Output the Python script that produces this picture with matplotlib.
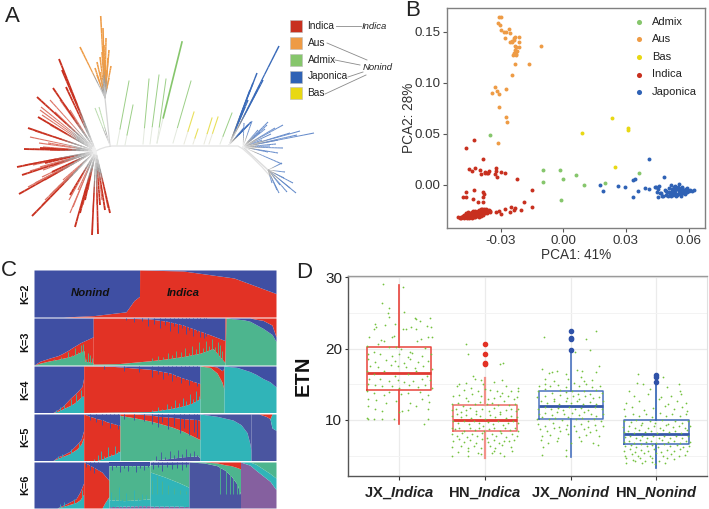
import numpy as np
import matplotlib
matplotlib.use("Agg")
import matplotlib.pyplot as plt
from matplotlib.collections import LineCollection
from matplotlib.colors import to_rgb

plt.rcParams['font.family'] = ['Liberation Sans', 'DejaVu Sans']
plt.rcParams['mathtext.fontset'] = 'custom'
plt.rcParams['mathtext.rm'] = 'Liberation Sans:bold'
plt.rcParams['mathtext.it'] = 'Liberation Sans:italic:bold'
plt.rcParams['mathtext.bf'] = 'Liberation Sans:bold'

W, H = 709, 509
RED, ORANGE, GREEN, BLUE, YELLOW = '#C8301F', '#EE9B45', '#86C66C', '#2F62B5', '#E8D813'

# ---------- Panel A: tree layout ----------
backbone_x = [96, 100, 106, 112, 150, 200, 230, 238, 243, 252, 262, 270]
backbone_y = [151, 149, 147, 146, 146, 146, 146, 146, 149, 157, 167, 176]

red_root = (96, 151)
red_strong = [(59, 59), (62, 70), (66, 87), (53, 88), (37, 97), (38, 117), (28, 128), (24, 149), (17, 167),
              (22, 175), (19, 194), (32, 216), (75, 227), (92, 235), (98, 234), (110, 213), (105, 210),
              (80, 213), (85, 200), (100, 205), (70, 195), (40, 148), (45, 163), (52, 172)]
red_pale = [(41, 107), (40, 110), (42, 115), (43, 120), (50, 125), (35, 131), (30, 137), (39, 143), (43, 147),
            (48, 143), (55, 137), (33, 149), (50, 150), (25, 165), (33, 165), (30, 171), (40, 167), (43, 170),
            (52, 166), (28, 187), (35, 183), (42, 177), (45, 180), (62, 170), (42, 205), (45, 200), (50, 195),
            (53, 192), (58, 187), (63, 180), (70, 213), (69, 200), (73, 207), (78, 190), (83, 205), (88, 190),
            (93, 212), (97, 205), (102, 200), (108, 208), (60, 100), (65, 105), (70, 110), (55, 112), (50, 100)]
orange_stem = [(110, 146), (105, 98)]
orange_tips = [(100.7, 16), (103, 28), (106, 38), (109, 50), (111, 66), (80, 47), (95, 68), (97, 62), (100, 57),
               (102, 52), (105, 60), (107, 70), (109, 78), (100, 72), (97, 75), (104, 45), (108, 58)]
pale_green_tips = [(95, 108), (99, 107)]
green_base = [(117, 145), (125, 145), (143, 144), (150, 144), (157, 143), (157, 143), (173, 143), (220, 144)]
green_tips = [(129, 81), (133, 105), (149, 79), (159, 75), (166, 79), (182, 42), (191, 81), (232, 113)]
yellow_base = [(184, 144), (193, 144), (204, 144), (209, 144)]
yellow_tips = [(194, 112), (198, 129), (212, 118), (218, 117)]
blue_up_root = (229, 145)
blue_up_tips = [(279, 46), (257, 73), (263, 80), (253, 83), (250, 90), (248, 100), (245, 107), (260, 85), (242, 113),
                (251, 122), (248, 125), (244, 128)]
blue_mid_root = (243, 147)
blue_mid_tips = [(244, 123), (252, 121), (268, 122), (283, 125), (300, 131), (314, 133), (297, 135), (278, 140),
                 (283, 148), (278, 153), (267, 125), (260, 132), (275, 128), (265, 129), (271, 134), (290, 133),
                 (270, 146), (276, 144), (262, 140), (258, 130), (268, 152), (282, 164)]
blue_low_root = (268, 170)
blue_low_tips = [(282, 163), (285, 172), (293, 183), (296, 193), (287, 192), (279, 193), (277, 190), (272, 183),
                 (284, 178), (280, 185), (275, 176), (290, 188)]
legend_names = ['Indica', 'Aus', 'Admix', 'Japonica', 'Bas']
legend_colors = [RED, ORANGE, GREEN, BLUE, YELLOW]
legend_y = [26, 43, 60, 76.5, 93]
link_lines = [((336, 26), (361, 26)), ((327, 43), (367, 60)), ((335, 60), (360, 65)),
              ((348, 77), (363, 72)), ((325, 94), (366, 75))]

# ---------- Panel B ----------
aus_x = [-.031, -.030, -.0313, -.0305, -.0297, -.0286, -.0275, -.0262, -.0257, -.0281, -.023, -.021, -.0235, -.0257,
         -.0246, -.0214, -.0233, -.0225, -.021, -.023, -.0222, -.0235, -.0243, -.0225, -.0108, -.0163, -.0232, -.0248,
         -.0275, -.0329, -.0317, -.0344, -.031, -.0308, -.0273, -.0268, -.0311, -.0245, -.0238, -.0225, -.0228]
aus_y = [.164, .164, .1585, .1565, .152, .150, .1497, .153, .1487, .1438, .1448, .1444, .142, .1395, .1395, .1395,
         .1356, .135, .1346, .1324, .1307, .129, .1268, .1275, .136, .1183, .1183, .1072, .0941, .0958, .0918, .0899,
         .0886, .0761, .0663, .0614, .0408, .1405, .1435, .1315, .1285]
admix_x = [-.0349, -.0097, -.0097, -.0016, -.0003, -.001, .0059, .0097, .0202, .0363]
admix_y = [.0493, .015, .0026, .0144, .0062, -.0144, .0095, .0003, .0023, .0118]
bas_x = [.0089, .0233, .0308, .0311, .0248]
bas_y = [.051, .0654, .0556, .0542, .0173]
indica_x = [-.0427, -.0467, -.0383, -.0452, -.044, -.0425, -.04, -.0395, -.0373, -.0365, -.0354, -.036, -.0376, -.0322,
            -.0321, -.0327, -.0317, -.0298, -.0278, -.0222, -.0151, -.019, -.0148, -.0203, -.023, -.0238, -.0251, -.0278,
            -.0257, -.0297, -.031, -.0321, -.0465, -.0479, -.0429, -.0383, -.0381, -.0384, -.041, -.0384, -.0432, -.0468,
            -.0505, -.0495, -.049, -.0485, -.0488, -.048, -.0478, -.0475, -.0472, -.047, -.0468, -.0466, -.0463, -.046,
            -.0458, -.0456, -.0453, -.045, -.0448, -.0446, -.0444, -.0442, -.044, -.0438, -.0436, -.0434, -.0432, -.043,
            -.0428, -.0426, -.0424, -.0422, -.042, -.0418, -.0416, -.0414, -.0412, -.041, -.0408, -.0406, -.0404, -.0402,
            -.04, -.0398, -.0396, -.0394, -.0392, -.039, -.0388, -.0385, -.0382, -.038, -.0376, -.0372, -.0368, -.0364,
            -.036, -.0356, -.0352, -.035, -.0465, -.0455, -.0445, -.0435, -.0425, -.0415, -.0405, -.0395, -.0385, -.0375,
            -.0462, -.0452, -.0442, -.0432, -.0422, -.0412, -.0402, -.0392, -.0382, -.0372]
indica_y = [.0438, .0359, .0258, .0154, .0141, .0163, .015, .0105, .0124, .0121, .0141, .0114, .0114, .0163, .0137, .0105,
            .0082, .0124, .0121, .0056, -.0052, -.017, -.0216, -.0242, -.0222, -.0245, -.0219, -.0235, -.0261, -.0281,
            -.0252, -.0261, -.0072, -.0118, -.0052, -.0069, -.0085, -.0114, -.0163, -.017, -.0141, -.0121,
            -.0315, -.032, -.0312, -.031, -.0325, -.0305, -.032, -.0295, -.0315, -.0305, -.0285, -.031, -.0325, -.0295,
            -.031, -.028, -.0322, -.0295, -.0272, -.0315, -.03, -.0285, -.0268, -.032, -.029, -.0305, -.0275, -.0262,
            -.0318, -.0292, -.0255, -.031, -.0278, -.0298, -.0262, -.0305, -.0285, -.0255, -.0295, -.0272, -.0245, -.031,
            -.0285, -.0265, -.0235, -.03, -.0275, -.0252, -.0235, -.029, -.0262, -.0238, -.0272, -.0255, -.024, -.0278,
            -.0258, -.0245, -.0268, -.0252, -.0278, -.0265, -.0285, -.0255, -.0275, -.0292, -.0265, -.0245, -.0255, -.0262,
            -.03, -.031, -.0295, -.0305, -.0285, -.0275, -.0285, -.0278, -.0248, -.0235]
japonica_x = [.041, .0483, .0178, .0192, .0262, .0295, .0335, .0335, .0344, .0359, .039, .0413, .0437, .0444, .0449, .0454,
              .046, .047, .048, .0455, .0465, .0475, .0485, .049, .0495, .05, .0505, .051, .0515, .052, .0525, .053, .0535,
              .054, .0545, .055, .0555, .056, .0565, .057, .0575, .058, .0585, .059, .0595, .06, .0605, .0615, .0625,
              .049, .0505, .052, .0535, .055, .0565, .058, .0595, .051, .0525, .054, .0555, .057, .0585, .0525, .0545,
              .0565, .0515, .0535, .0555, .0575, .0595]
japonica_y = [.0252, .0078, .0003, -.0062, -.001, -.002, -.0118, .0049, .0059, -.0059, -.0029, -.0042, -.0016, -.0016, -.0065,
              -.0114, -.001, -.008, -.011, -.004, -.0075, -.0108, -.005, -.0095, -.0065, -.0108, -.003, -.0085, -.0105,
              -.0055, -.0095, -.002, -.0075, -.0108, -.0035, -.0085, .0005, -.0065, -.0105, -.0025, -.0075, -.0045, -.0085,
              -.0035, -.0065, -.0055, -.005, -.0055, -.005, -.0055, -.0065, -.0035, -.0045, -.0015, -.0035, -.0055, -.0045,
              -.0075, -.0065, -.0025, -.0055, -.0015, -.0075, -.0085, -.0095, -.0088, .0002, -.0008, -.0028, -.0065, -.0025]
pca_xticks = [-0.03, 0.00, 0.03, 0.06]
pca_yticks = [0.00, 0.05, 0.10, 0.15]

# ---------- Panel C: ancestry fractions per ordered sample ----------
C_BLUE, C_RED, C_GREEN, C_TEAL, C_DEEP, C_PURPLE = '#3F4FA3', '#E23225', '#4DB58E', '#30B4B8', '#4A55A0', '#85609F'
k2_x = [0, 29, 60, 92, 100, 105.5, 105.6, 149, 200, 242]
k2_red = [0, 0, .03, .11, .35, .44, 1.0, .98, .83, .5]

k3_x1 = [0, 6, 16, 24, 28, 34, 39, 43, 46, 49, 50, 51, 59.2]
k3_g1 = [0, .04, .09, .12, .14, .17, .2, .24, .27, .3, .3, .08, .05]
k3_r1 = [0, .08, .15, .2, .24, .31, .38, .43, .47, .5, .51, .52, .6]
k3_x2 = [59.2, 85, 116, 133, 149, 166, 179, 191]
k3_g2 = [.02, .03, .09, .13, .18, .25, .35, .05]
k3_r2 = [1, 1, .98, .93, .85, .72, .62, .52]
k3_x3 = [191, 192, 210, 216, 223, 229, 238, 242]
k3_g3 = [.05, 1, .96, .93, .85, .78, .65, .5]
k3_b3 = [.05, 1, 1, 1, .97, .95, .85, .6]

k4_x1 = [0, 19, 24, 29, 36, 40, 43, 48, 49.7]
k4_t1 = [0, 0, .03, .08, .15, .2, .25, .35, .35]
k4_r1 = [0, 0, .06, .14, .3, .38, .44, .56, .75]
k4_x2 = [49.7, 80, 116, 136, 149, 158, 166]
k4_t2 = [0, .01, .02, .08, .14, .2, .3]
k4_r2 = [1, .99, .93, .85, .74, .68, .62]
k4_x3 = [166, 176, 183, 188, 190]
k4_g3 = [1, .97, .85, .65, .5]
k4_r3 = [1, 1, .98, .9, .95]
k4_x4 = [190, 203, 216, 222, 229, 236, 242]
k4_t4 = [1, .97, .88, .82, .73, .66, .55]

k5_x1 = [0, 19, 24, 29, 36, 43, 47, 49.7]
k5_t1 = [0, 0, .05, .09, .15, .25, .35, .5]
k5_r1 = [0, 0, .08, .12, .2, .35, .45, .65]
k5_x2 = [49.7, 56, 63, 69, 73, 80, 86]
k5_t2 = [0, 0, 0, .04, .08, .13, .2]
k5_r2 = [1, .95, .9, .87, .83, .79, .75]
k5_x3 = [86, 100, 116, 125, 138, 149, 164, 166]
k5_d3 = [0, 0, 0, .02, .05, .08, .1, .05]
k5_g3 = [.97, .92, .85, .8, .72, .63, .47, .45]
k5_r3 = [1, 1, .98, .95, .93, .9, .88, .85]
k5_x4 = [166, 183, 199, 207, 213, 216, 217]
k5_t4 = [1, .95, .87, .77, .6, .35, .2]
k5_x5 = [217, 225, 232, 236, 238, 242]
k5_d5 = [1, 1, .95, .9, .7, .65]
k5_t5 = [1, 1, .95, .9, 1, 1]

k6_x1 = [0, 23, 33, 42, 46, 49.7]
k6_t1 = [0, 0, .06, .12, .18, .3]
k6_r1 = [0, 0, .1, .2, .35, .55]
k6_x2 = [49.7, 60, 68, 71, 75]
k6_t2 = [0, 0, 0, .12, .25]
k6_r2 = [1, .88, .78, .7, .6]
k6_x3 = [75, 90, 105, 116]
k6_p3 = [.03, .04, .05, .05]
k6_t3 = [.18, .16, .18, .2]
k6_g3 = [.92, .92, .92, .92]
k6_x4 = [116, 116.5, 130, 145, 155]
k6_p4 = [.04, .04, .04, .04, .03]
k6_t4 = [.2, .78, .68, .55, .45]
k6_g4 = [.94, .94, .94, .95, .95]
k6_x5 = [155, 170, 183, 191, 197, 203, 206.5]
k6_d5 = [1, .98, .92, .82, .7, .52, .3]
k6_g5 = [1, 1, .98, .94, .92, .88, .85]
k6_x6 = [206.5, 216, 222, 229, 236, 242]
k6_v6 = [1, .93, .82, .7, .58, .4]
k6_t6 = [1, 1, .95, .85, .75, .65]

rows = [
    ('K=2', [(k2_x, [(C_RED, k2_red), (C_BLUE, [1]*len(k2_x))])]),
    ('K=3', [(k3_x1, [(C_GREEN, k3_g1), (C_RED, k3_r1), (C_BLUE, [1]*len(k3_x1))]),
             (k3_x2, [(C_GREEN, k3_g2), (C_RED, k3_r2), (C_BLUE, [1]*len(k3_x2))]),
             (k3_x3, [(C_GREEN, k3_g3), (C_BLUE, k3_b3), (C_RED, [1]*len(k3_x3))])]),
    ('K=4', [(k4_x1, [(C_TEAL, k4_t1), (C_RED, k4_r1), (C_BLUE, [1]*len(k4_x1))]),
             (k4_x2, [(C_TEAL, k4_t2), (C_RED, k4_r2), (C_BLUE, [1]*len(k4_x2))]),
             (k4_x3, [(C_GREEN, k4_g3), (C_RED, k4_r3), (C_BLUE, [1]*len(k4_x3))]),
             (k4_x4, [(C_TEAL, k4_t4), (C_BLUE, [1]*len(k4_x4))])]),
    ('K=5', [(k5_x1, [(C_TEAL, k5_t1), (C_RED, k5_r1), (C_BLUE, [1]*len(k5_x1))]),
             (k5_x2, [(C_TEAL, k5_t2), (C_RED, k5_r2), (C_BLUE, [1]*len(k5_x2))]),
             (k5_x3, [(C_DEEP, k5_d3), (C_GREEN, k5_g3), (C_RED, k5_r3), (C_BLUE, [1]*len(k5_x3))]),
             (k5_x4, [(C_TEAL, k5_t4), (C_DEEP, [1]*len(k5_x4))]),
             (k5_x5, [(C_DEEP, k5_d5), (C_TEAL, k5_t5), (C_RED, [1]*len(k5_x5))])]),
    ('K=6', [(k6_x1, [(C_TEAL, k6_t1), (C_RED, k6_r1), (C_BLUE, [1]*len(k6_x1))]),
             (k6_x2, [(C_TEAL, k6_t2), (C_RED, k6_r2), (C_BLUE, [1]*len(k6_x2))]),
             (k6_x3, [(C_PURPLE, k6_p3), (C_TEAL, k6_t3), (C_GREEN, k6_g3), (C_BLUE, [1]*len(k6_x3))]),
             (k6_x4, [(C_PURPLE, k6_p4), (C_TEAL, k6_t4), (C_GREEN, k6_g4), (C_BLUE, [1]*len(k6_x4))]),
             (k6_x5, [(C_DEEP, k6_d5), (C_GREEN, k6_g5), (C_RED, [1]*len(k6_x5))]),
             (k6_x6, [(C_PURPLE, k6_v6), (C_TEAL, k6_t6), (C_GREEN, [1]*len(k6_x6))])]),
]
# thin single-sample columns: colour, sample, from fraction, to fraction
k3_up_x = [20, 27, 34, 38, 41, 44, 47, 49, 52, 54, 56, 58, 118, 124, 129, 134, 138, 142, 147, 151, 155, 158, 162, 165, 169, 172, 175, 178, 181, 184, 186, 188]
k3_up_y = [.12, .18, .28, .22, .36, .28, .42, .44, .12, .25, .22, .15, .14, .2, .16, .26, .22, .3, .28, .36, .26, .4, .33, .48, .36, .52, .4, .56, .38, .5, .42, .3]
k3_dn_x = [92, 100, 108, 114, 120, 126, 131, 136, 140, 144, 148, 152, 155, 159, 163, 166, 170, 172]
k3_dn_y = [.95, .92, .93, .82, .88, .78, .85, .72, .82, .68, .78, .65, .75, .62, .7, .6, .58, .62]
k4_up_x = [22, 26, 30, 33, 37, 39, 42, 45, 47, 49, 118, 124, 128, 133, 137, 141, 145, 149, 152, 156, 159, 162, 165]
k4_up_y = [.05, .12, .16, .08, .28, .14, .4, .22, .48, .28, .06, .12, .08, .18, .14, .26, .2, .32, .24, .4, .3, .46, .35]
k4_dn_x = [70, 90, 105, 118, 124, 129, 134, 138, 142, 147, 151, 155, 159, 163]
k4_dn_y = [.93, .9, .88, .76, .82, .72, .8, .68, .76, .64, .7, .6, .66, .58]
k5_up_x = [24, 28, 33, 37, 41, 45, 48, 60, 64, 67, 70, 74, 77, 81, 84]
k5_up_y = [.09, .14, .07, .24, .15, .38, .22, .04, .12, .2, .09, .28, .14, .32, .2]
k5_dn_x = [56, 62, 68, 72, 76, 80, 84, 90, 100, 110, 118, 124, 128, 134, 140, 146, 150, 155, 160, 163]
k5_dn_y = [.88, .82, .76, .85, .7, .78, .68, .9, .88, .86, .78, .72, .82, .68, .74, .6, .7, .55, .62, .5]
k5_deep_x = [122, 127, 131, 136, 140, 144, 148, 152, 156, 160, 163]
k5_deep_y = [.1, .18, .08, .2, .12, .22, .14, .24, .16, .2, .12]
k6_up_x = [26, 30, 35, 40, 44, 48, 77, 81, 85, 88, 92, 96, 100, 104, 108, 112, 120, 125, 130, 135, 140, 145, 150]
k6_up_y = [.08, .14, .06, .2, .12, .4, .35, .25, .45, .2, .32, .18, .4, .22, .3, .28, .12, .1, .16, .12, .1, .15, .08]
k6_dn_x = [52, 56, 60, 64, 78, 82, 86, 90, 94, 98, 102, 106, 110, 114, 119, 124, 128, 133, 138, 143, 148, 152]
k6_dn_y = [.9, .82, .76, .82, .82, .9, .78, .88, .8, .92, .78, .86, .82, .9, .85, .9, .8, .9, .84, .88, .82, .9]
k6_green_x = [186, 192, 196, 199, 203, 205, 118, 123, 128, 134, 140, 146, 152]
k6_green_y = [.92, .8, .75, .62, .6, .45, .6, .7, .58, .5, .44, .4, .36]
spike_sets = {
    'K=3': [(C_GREEN, k3_up_x, 0, k3_up_y), (C_BLUE, k3_dn_x, k3_dn_y, 1)],
    'K=4': [(C_TEAL, k4_up_x, 0, k4_up_y), (C_BLUE, k4_dn_x, k4_dn_y, 1)],
    'K=5': [(C_TEAL, k5_up_x, 0, k5_up_y), (C_BLUE, k5_dn_x, k5_dn_y, 1), (C_DEEP, k5_deep_x, 0, k5_deep_y)],
    'K=6': [(C_TEAL, k6_up_x, 0, k6_up_y), (C_BLUE, k6_dn_x, k6_dn_y, 1), (C_GREEN, k6_green_x, 0.3, k6_green_y)],
}
row_tops = [270, 318, 366, 414, 462]
row_bottoms = [317, 365, 412.5, 460.5, 508]

# ---------- Panel D ----------
groups = ['$\\mathrm{JX\\_}\\mathit{Indica}$', '$\\mathrm{HN\\_}\\mathit{Indica}$',
          '$\\mathrm{JX\\_}\\mathit{Nonind}$', '$\\mathrm{HN\\_}\\mathit{Nonind}$']
q1 = [14.2, 8.4, 10.2, 6.6]
med = [16.6, 10.0, 12.0, 8.0]
q3 = [20.2, 12.1, 14.0, 10.0]
whislo = [9.4, 4.7, 4.8, 3.3]
whishi = [29.0, 15.9, 19.8, 15.3]
fliers = [[], [17.9, 18.0, 19.2, 20.7], [19.8, 21.4, 21.5, 22.5], [15.3, 16.0, 16.3]]

jx_ind_off = [-.19, .04, -.2, -.12, -.13, -.12, .05, -.28, -.17, -.05, -.27, -.29, .18, .2, .24, .36, .32, .37, .14, .08, .04, .2,
              -.35, -.21, -.18, -.06, -.08, .25, .34, .38, .21, -.38, -.25, -.12, -.04, .02, .13, .3, -.36, -.3, -.22, -.08, 0, .1,
              .15, .27, .37, -.37, -.28, -.15, -.05, .05, .12, .22, .33, -.34, -.25, -.1, -.02, .08, .18, .28, .38, -.38, -.3, -.18,
              -.05, .1, .2, .32, -.35, -.22, -.12, -.02, .06, .16, .26, .36, -.37, -.28, -.2, -.08, 0, .11, .22, .3, .38, -.38, -.3,
              -.18, -.12, .02, .1, .24, .33, -.37, -.27, -.15, -.04, .12, .26, .35, -.36, -.28, -.2, 0, .03, .1, .2, .34, -.38, -.37,
              -.3, -.2, -.06, .34, .29]
jx_ind_val = [29.1, 28.7, 26.4, 25.7, 25, 24.4, 25.1, 23.5, 23.3, 23.4, 23, 22.7, 24.3, 24.1, 23.9, 24.3, 23.2, 23.1, 23, 22.8, 22.7, 22.8,
              21.6, 21.2, 21.1, 21.8, 21.6, 21.3, 21.7, 21.7, 21.1, 20.4, 20.6, 20.3, 20.2, 20, 19.6, 20.1, 19.2, 19.5, 19.2, 19, 19.3, 18.9,
              19.4, 19, 19.2, 18.5, 18.2, 18.4, 18.3, 18, 18.5, 18.2, 18.3, 17.6, 17.4, 17.7, 17.5, 17.4, 17.3, 17.5, 17.2, 16.9, 16.5, 16.8,
              16.2, 16.4, 16.9, 16.2, 15.8, 15.7, 15.4, 15.6, 15.3, 15.5, 15.8, 15.6, 15, 14.9, 14.7, 14.8, 14.5, 14.9, 14.6, 14.9, 14.5, 14, 13.8,
              13.5, 13.9, 13.6, 13.8, 13.9, 13.5, 13, 12.8, 12.4, 12.7, 12.4, 12.9, 12.5, 12, 11.6, 11.3, 11.1, 11.2, 11.4, 11.9, 11.5, 10.3, 10.1,
              10.2, 10.1, 10.1, 10.1, 9.4]
hn_ind_off = [-.22, -.2, .18, .21, -.14, -.05, .2, -.3, -.22, -.12, -.02, .1, .25, .38, .39, -.33, -.25, -.16, -.08, 0, .06, .14, .2, .3, -.37, -.3,
              -.22, -.15, -.05, .03, .1, .18, .27, .34, .37, -.38, -.32, -.26, -.2, -.12, -.06, .02, .08, .15, .22, .28, .35, -.39, -.34, -.28, -.22,
              -.17, -.1, -.04, .05, .11, .17, .24, .3, .36, .38, -.38, -.33, -.28, -.22, -.16, -.1, -.06, .0, .06, .12, .18, .24, .3, .37, -.37, -.31,
              -.25, -.19, -.13, -.07, -.02, .04, .09, .15, .21, .27, .33, .39, -.39, -.35, -.3, -.24, -.18, -.12, -.07, -.01, .05, .11, .17, .23, .29,
              .35, .39, -.38, -.33, -.27, -.21, -.15, -.09, -.03, .02, .08, .13, .19, .25, .31, .37, -.37, -.3, -.24, -.17, -.1, -.04, .03, .1, .16, .22,
              .28, .34, -.38, -.28, -.2, -.13, -.05, .06, .12, .2, .3, -.32, -.2, -.08, .1, .18, .32, -.38, -.2, -.05, .08, .22]
hn_ind_val = [20.7, 19.3, 17.9, 18, 16.2, 15.6, 15.6, 15, 15.2, 15.8, 15.1, 15.3, 14.7, 14.5, 14, 14.7, 14.2, 14.5, 14, 14.4, 14.2, 14, 13.8, 14.1, 13.4,
              13.5, 13.1, 13.6, 13.3, 12.9, 13.1, 13.4, 13.3, 12.9, 13.2, 12.2, 12.4, 12, 12.6, 12.2, 12.5, 12.2, 12.4, 12.1, 12.6, 12.1, 12.3, 11.4,
              11.6, 11.1, 11.4, 11.7, 11.2, 11.5, 11.3, 11.7, 11.1, 11.4, 11.6, 11.2, 11.5, 10.6, 10.8, 10.4, 10.7, 10.3, 10.8, 10.5, 10.2, 10.7, 10.4,
              10.8, 10.3, 10.6, 10.4, 9.9, 9.6, 9.8, 9.4, 9.8, 9.5, 9.2, 9.7, 9.4, 9.8, 9.3, 9.6, 9.9, 9.5, 8.9, 8.7, 8.9, 8.5, 8.8, 8.6, 8.9, 8.4, 8.7,
              8.9, 8.5, 8.8, 8.6, 8.9, 8.5, 8, 7.7, 8.2, 7.6, 8, 7.8, 8.1, 7.5, 8, 7.7, 8.1, 7.6, 8, 7.8, 7.1, 7.3, 6.9, 7.2, 6.8, 7.3, 6.9, 7.2, 6.7, 7.1,
              7, 7.2, 6.2, 6.4, 6.1, 6.3, 6, 6.4, 6.1, 6.5, 6.2, 5.5, 5.7, 5.4, 5.6, 5.3, 5.6, 5, 4.9, 5.2, 5.4, 4.9]
jx_non_off = [-.31, .18, .3, .22, .05, .33, -.33, -.25, -.22, -.16, -.05, .07, .13, .3, -.3, -.2, -.03, .12, .15, .25, -.37, -.3, -.24, -.15, -.06, .04, .1,
              .18, .25, .34, -.38, -.3, -.22, -.13, -.05, .02, .08, .15, .22, .3, .36, -.39, -.3, -.2, -.12, -.04, .03, .1, .17, .26, .33, -.35, -.28, -.2, -.14,
              -.06, 0, .07, .14, .22, .29, .38, -.38, -.3, -.23, -.15, -.09, -.02, .05, .12, .2, .28, .36, -.37, -.3, -.22, -.16, -.08, .02, .1, .16, .24, .3, .38,
              -.39, -.33, -.25, -.18, -.1, -.03, .06, .13, .2, .27, .35, -.38, -.3, -.21, -.14, -.04, .04, .12, .2, .28, .38, -.36, -.28, -.2, -.12, -.05, .06,
              .15, .22, .3, -.33, -.24, -.15, -.03, .1, .18, .33, -.35, -.26, -.16, .0, .12, .26, -.32, -.05, .32, -.05, -.34]
jx_non_val = [21.6, 21.3, 22.5, 19.8, 19.5, 17.5, 17.2, 16.6, 16.7, 16.9, 16.5, 17, 16.9, 16.7, 15.8, 15.5, 15.8, 16, 15.4, 15.6, 14.8, 15, 14.7, 14.9, 14.6, 15.2,
              14.7, 15, 14.6, 14.8, 14, 14.3, 13.8, 14.2, 13.9, 14.1, 13.6, 14, 13.7, 14.2, 13.8, 13.2, 13.4, 13, 13.5, 13.1, 13.3, 13, 13.4, 13.1, 13.2, 12.6,
              12.4, 12.7, 12.3, 12.6, 12.4, 12.7, 12.2, 12.5, 12.3, 12.6, 11.6, 11.8, 11.5, 11.7, 11.4, 11.8, 11.5, 11.7, 11.4, 11.8, 11.5, 10.9, 11, 10.7, 11.1,
              10.8, 11, 10.7, 11.1, 10.8, 10.6, 10.9, 10.2, 10.4, 10.1, 10.3, 10, 10.4, 10.1, 10.3, 9.9, 10.2, 9.9, 9.4, 9.2, 9.5, 9, 9.3, 9.1, 9.4, 9, 9.3, 9.2,
              8.7, 8.5, 8.8, 8.4, 8.7, 8.5, 8.7, 8.3, 8.6, 7.8, 7.9, 7.5, 8, 7.6, 7.9, 7.7, 7.2, 6.8, 7, 6.7, 7.1, 6.8, 6.2, 5.8, 6.5, 4.9, 5.1]
hn_non_off = [-.21, .08, -.23, .26, -.16, -.32, -.08, .28, .12, -.26, -.1, .05, .17, .29, -.36, -.2, .03, .14, .24, .35, -.38, -.28, -.14, -.04, .1, .2, .3, .36, -.37,
              -.27, -.2, -.12, -.05, .04, .11, .18, .27, .35, -.38, -.3, -.24, -.17, -.08, -.02, .06, .14, .22, .3, .37, -.39, -.32, -.25, -.18, -.1, -.03, .04, .11, .19,
              .26, .33, .39, -.38, -.33, -.26, -.2, -.13, -.06, .01, .08, .15, .22, .29, .36, -.37, -.31, -.24, -.17, -.11, -.04, .03, .09, .16, .23, .3, .37, -.38, -.32,
              -.26, -.19, -.12, -.06, .0, .07, .13, .2, .27, .34, .39, -.37, -.3, -.24, -.18, -.11, -.05, .02, .09, .16, .24, .31, .38, -.38, -.31, -.25, -.18, -.1, -.03,
              .05, .12, .2, .28, .36, -.37, -.29, -.22, -.15, -.07, .0, .08, .17, .26, .33, -.36, -.27, -.19, -.13, -.05, .03, .12, .2, -.35, -.25, -.17, -.05, -.02, .1]
hn_non_val = [16.4, 16, 15.2, 15.1, 15, 14, 14.3, 14, 14.6, 13.4, 13.6, 13.2, 13.4, 13.7, 12.4, 12.7, 12.9, 12.3, 12.7, 12.4, 11.5, 11.8, 11.4, 11.7, 11.9, 11.5, 11.8,
              11.3, 10.6, 10.9, 10.5, 10.8, 10.4, 11, 10.6, 10.9, 10.5, 10.8, 9.9, 9.7, 10, 9.5, 9.9, 9.6, 10, 9.4, 9.8, 9.5, 9.9, 9, 9.2, 8.9, 9.3, 8.9, 9.2, 8.8, 9.3,
              9, 9.2, 8.9, 9.1, 8.3, 8.5, 8.2, 8.6, 8.3, 8.5, 8.2, 8.6, 8.3, 8.5, 8.2, 8.6, 7.6, 7.8, 7.5, 7.8, 7.4, 7.7, 7.5, 7.8, 7.4, 7.7, 7.5, 7.8, 6.9, 7.1, 6.8, 7.2,
              6.9, 7.1, 6.8, 7.2, 6.9, 7.1, 6.8, 7, 6.9, 6.3, 6.5, 6.2, 6.6, 6.3, 6.5, 6.2, 6.6, 6.3, 6.5, 6.2, 6.4, 5.6, 5.9, 5.5, 5.8, 5.6, 5.9, 5.5, 5.8, 5.6, 5.9, 5.7,
              5, 5.2, 4.9, 5.3, 5, 5.3, 4.9, 5.2, 5, 5.1, 4.6, 4.4, 4.7, 4.3, 4.6, 4.3, 4.7, 4.5, 4, 4.2, 3.9, 4.1, 3.8, 3.9]
etn_ticks = [10, 20, 30]
etn_minor = [5, 15, 25]


def fig_axes(x0, y0, x1, y1):
    return fig.add_axes([x0 / W, 1 - y1 / H, (x1 - x0) / W, (y1 - y0) / H])


fig = plt.figure(figsize=(7.09, 5.09), dpi=100, facecolor='white')

# ---- A ----
ax = fig_axes(0, 0, W, H)
ax.set_xlim(0, W)
ax.set_ylim(H, 0)
ax.axis('off')
GREY = np.array(to_rgb('#9a9a9a'))
PALE = np.array(to_rgb('#efefef'))


def branches(root, tips, color, lw, strength=1.0, start=0.0):
    col = np.array(to_rgb(color))
    col = col * strength + (1 - strength) * np.array([1, 1, 1])
    fr = np.linspace(0, 1, 15)
    for t in tips:
        xs = root[0] + (t[0] - root[0]) * fr
        ys = root[1] + (t[1] - root[1]) * fr
        segs = [[(xs[i], ys[i]), (xs[i + 1], ys[i + 1])] for i in range(14)]
        cols, lws = [], []
        for f in fr[:-1]:
            lws.append(lw * (0.45 + 0.55 * f))
            f = max(f, start)
            if f < 0.3:
                c = PALE + (GREY - PALE) * f / 0.3
            elif f < 0.5:
                c = GREY + (col - GREY) * (f - 0.3) / 0.2
            else:
                c = col
            cols.append(tuple(c))
        ax.add_collection(LineCollection(segs, colors=cols, linewidths=lws, capstyle='butt', zorder=2))


ax.plot(backbone_x, backbone_y, color='#e2e2e2', lw=0.9, zorder=1)
branches(red_root, red_pale, '#D4503F', 0.9, 0.8)
branches(red_root, red_strong, '#C8301F', 1.4)
ax.plot(*zip(*orange_stem), color='#d4d4d4', lw=0.9, zorder=1)
branches(orange_stem[1], orange_tips, '#EE9B45', 1.2, 1.0, 0.15)
branches(orange_stem[0], pale_green_tips, '#9CCB8A', 0.8, 0.7)
for b, t in zip(green_base, green_tips):
    lw = 1.2 if t == (182, 42) else 0.7
    ax.plot([b[0], b[0] + (t[0] - b[0]) * .25], [b[1], b[1] + (t[1] - b[1]) * .25], color='#e3e9de', lw=0.7, zorder=1)
    ax.plot([b[0] + (t[0] - b[0]) * .25, t[0]], [b[1] + (t[1] - b[1]) * .25, t[1]], color='#86C66C' if lw > 1 else '#9CCF87', lw=lw, zorder=2)
for b, t in zip(yellow_base, yellow_tips):
    ax.plot([b[0], b[0] + (t[0] - b[0]) * .4], [b[1], b[1] + (t[1] - b[1]) * .4], color='#e8e8dc', lw=0.7, zorder=1)
    ax.plot([b[0] + (t[0] - b[0]) * .4, t[0]], [b[1] + (t[1] - b[1]) * .4, t[1]], color='#E9E05A', lw=0.8, zorder=2)
branches(blue_up_root, blue_up_tips, '#2F62B5', 1.1, 0.95)
branches(blue_mid_root, blue_mid_tips, '#4A76C2', 0.8, 0.85)
ax.plot([blue_mid_root[0], blue_low_root[0]], [blue_mid_root[1], blue_low_root[1]], color='#dcdcdc', lw=1.0, zorder=1)
branches(blue_low_root, blue_low_tips, '#3A6CBC', 0.8, 0.8, 0.2)
for name, col, y in zip(legend_names, legend_colors, legend_y):
    ax.scatter([296.2], [y], marker='s', s=78, color=col, edgecolors='#bbbbbb', linewidths=0.4, zorder=3)
    ax.text(307.5, y - 0.5, name, fontsize=7.3, color='#222222', va='center', ha='left')
for a, b in link_lines:
    ax.plot([a[0], b[0]], [a[1], b[1]], color='#8a8a8a', lw=0.6)
ax.text(374, 26, 'Indica', style='italic', fontsize=6.8, color='#222222', ha='center', va='center')
ax.text(378, 67, 'Nonind', style='italic', fontsize=6.8, color='#222222', ha='center', va='center')
ax.text(5, 16, 'A', fontsize=16, color='#222222', va='center', ha='left')
ax.text(405, 10, 'B', fontsize=16, color='#222222', va='center', ha='left')
ax.text(1, 271, 'C', fontsize=16, color='#222222', va='center', ha='left')
ax.text(296, 272, 'D', fontsize=16, color='#222222', va='center', ha='left')

# ---- B ----
b = fig_axes(447.3, 8, 705, 228)
b.scatter(admix_x, admix_y, s=8, color=GREEN, label='Admix', linewidths=0)
b.scatter(aus_x, aus_y, s=8, color=ORANGE, label='Aus', linewidths=0)
b.scatter(bas_x, bas_y, s=8, color=YELLOW, label='Bas', linewidths=0)
b.scatter(indica_x, indica_y, s=8, color=RED, label='Indica', linewidths=0)
b.scatter(japonica_x, japonica_y, s=8, color=BLUE, label='Japonica', linewidths=0)
b.set_xlim(-0.0556, 0.0679)
b.set_ylim(-0.0421, 0.1732)
b.set_xticks(pca_xticks, ['-0.03', '0.00', '0.03', '0.06'])
b.set_yticks(pca_yticks, ['0.00', '0.05', '0.10', '0.15'])
b.tick_params(labelsize=9.6, length=3, width=0.8, color='#555555', labelcolor='#333333', pad=2)
b.set_xlabel('PCA1: 41%', fontsize=9.8, color='#333333', labelpad=1)
b.set_ylabel('PCA2: 28%', fontsize=9.8, color='#333333', labelpad=-1.5)
for s in b.spines.values():
    s.set_color('#808080')
    s.set_linewidth(1.0)
leg = b.legend(loc='upper left', bbox_to_anchor=(0.70, 0.96), frameon=False, fontsize=8, labelspacing=0.68,
               handletextpad=0.2, borderpad=0, borderaxespad=0, scatterpoints=1, markerscale=1.3)
for t in leg.get_texts():
    t.set_color('#222222')

# ---- C ----
for (label, blocks), top, bottom in zip(rows, row_tops, row_bottoms):
    c = fig_axes(34, top, 276, bottom)
    c.set_xlim(0, 242)
    c.set_ylim(0, 1)
    c.axis('off')
    for xs, layers in blocks:
        prev = np.zeros(len(xs))
        for col, upper in layers:
            upper = np.array(upper, dtype=float)
            c.fill_between(xs, prev, upper, color=col, linewidth=0)
            prev = upper
    for col, xs, lo, hi in spike_sets.get(label, []):
        c.vlines(xs, lo, hi, color=col, linewidth=0.7, alpha=0.9)
    ax.text(25, (top + bottom) / 2, label, rotation=90, fontsize=7.8, fontweight='bold', color='#111111',
            ha='center', va='center')
    if label == 'K=2':
        c.text(56, 0.5, 'Nonind', style='italic', fontweight='bold', fontsize=8.2, color='#111111', ha='center', va='center')
        c.text(149, 0.5, 'Indica', style='italic', fontweight='bold', fontsize=8.2, color='#111111', ha='center', va='center')

# ---- D ----
d = fig_axes(348.3, 276, 707, 476)
stats = [dict(med=m, q1=a_, q3=b_, whislo=lo, whishi=hi, fliers=f)
         for m, a_, b_, lo, hi, f in zip(med, q1, q3, whislo, whishi, fliers)]
box_cols = ['#E8423B', '#EE6A66', '#4A72BF', '#3F68B8']
med_cols = ['#E03A33', '#E03A33', '#3558A8', '#3558A8']
whisk_cols = ['#E8423B', '#F2918A', '#4A72BF', '#2F62B5']
flier_cols = ['#E23225', '#E23225', '#2F52A8', '#2F52A8']
for i, st in enumerate(stats):
    d.bxp([st], positions=[i], widths=0.75, showcaps=False,
          boxprops=dict(color=box_cols[i], lw=1.1),
          medianprops=dict(color=med_cols[i], lw=2.0, solid_capstyle='butt'),
          whiskerprops=dict(color=whisk_cols[i], lw=1.2 if i != 1 else 1.6),
          flierprops=dict(marker='o', markersize=3.0, markerfacecolor=flier_cols[i], markeredgecolor=flier_cols[i]))
for i, (off, val) in enumerate([(jx_ind_off, jx_ind_val), (hn_ind_off, hn_ind_val),
                                (jx_non_off, jx_non_val), (hn_non_off, hn_non_val)]):
    d.scatter(np.array(off) + i, val, s=1.6, color='#74C23F', linewidths=0, zorder=5)
d.set_xlim(-0.595, 3.59)
d.set_ylim(2.13, 30.2)
d.set_xticks(range(4), groups)
d.set_yticks(etn_ticks)
d.set_yticks(etn_minor, minor=True)
d.grid(True, which='major', color='#ebebeb', lw=0.9)
d.grid(True, which='minor', axis='y', color='#f3f3f3', lw=0.7)
d.set_axisbelow(True)
d.tick_params(axis='y', which='minor', length=0)
d.tick_params(axis='y', labelsize=11, length=2.5, width=0.8, color='#333333', labelcolor='#222222', pad=2)
d.tick_params(axis='x', labelsize=10.6, length=3, width=0.8, color='#333333', labelcolor='#222222', pad=3)
d.set_ylabel('ETN', fontsize=14.5, fontweight='bold', color='#111111', labelpad=9)
d.spines['top'].set_color('#9a9a9a')
d.spines['top'].set_linewidth(1.0)
d.spines['right'].set_color('#e0e0e0')
d.spines['left'].set_color('#555555')
d.spines['bottom'].set_color('#555555')
d.spines['left'].set_linewidth(1.0)
d.spines['bottom'].set_linewidth(1.0)

fig.savefig('out.png', dpi=100, facecolor='white')
